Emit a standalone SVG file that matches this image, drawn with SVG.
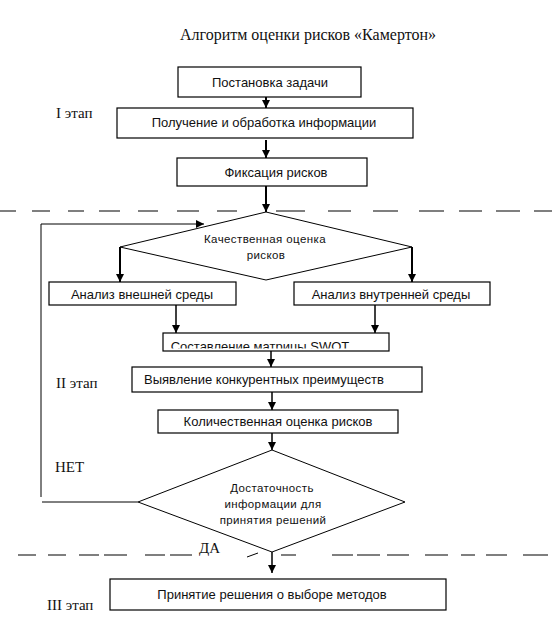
<svg xmlns="http://www.w3.org/2000/svg" width="558" height="620" viewBox="0 0 558 620">
<style>
.box{fill:#fff;stroke:#000;stroke-width:1.2}
.dia{fill:#fff;stroke:#000;stroke-width:1}
.t{font-family:"Liberation Sans",Arial,sans-serif;font-size:13px;fill:#111;text-anchor:middle}
.ts{font-family:"Liberation Sans",Arial,sans-serif;font-size:11.5px;fill:#111;text-anchor:middle;letter-spacing:0.4px}
.s{font-family:"Liberation Serif","Times New Roman",serif;font-size:15px;fill:#111}
.c{fill:none;stroke:#000;stroke-width:2}
.c1{fill:none;stroke:#000;stroke-width:1.5}
.l{fill:none;stroke:#000;stroke-width:1}
.d{fill:none;stroke:#000;stroke-width:1.2}
</style>
<defs>
<marker id="ah" markerUnits="userSpaceOnUse" markerWidth="9" markerHeight="10" refX="8" refY="4" orient="auto">
<path d="M0,0 L8,4 L0,8 Z" fill="#000"/>
</marker>
<clipPath id="swclip"><rect x="163" y="333" width="227" height="15.5"/></clipPath>
</defs>
<rect width="558" height="620" fill="#fff"/>
<text class="s" x="308" y="40" text-anchor="middle" style="font-size:16px">Алгоритм оценки рисков «Камертон»</text>
<g id="labels">
<text class="s" x="56" y="118">I этап</text>
<text class="s" x="56" y="388">II этап</text>
<text class="s" x="55" y="472">НЕТ</text>
<text class="s" x="199" y="553">ДА</text>
<text class="s" x="47" y="610">III этап</text>
</g>
<g id="dividers">
<path class="d" d="M0,211H16M32,211H50M68,211H84M99,211H120M138,211H158M177,211H199M217,211H237M276,211H305M328,211H351M373,211H398M419,211H444M459,211H482M496,211H520M534,211H552"/>
<path class="d" d="M18,555H36M48,555H66M79,555H99M104,555H127M145,555H165M170,555H192M281,555H296M332,555H353M357,555H380M387,555H409M425,555H448M461,555H475M486,555H507M523,555H548"/>
<path class="l" d="M247,557L258,553"/>
</g>
<g id="n1"><rect class="box" x="178" y="67" width="183" height="30"/><text class="t" x="270" y="87">Постановка задачи</text></g>
<g id="n2"><rect class="box" x="117" y="108" width="296" height="30"/><text class="t" x="264" y="127">Получение и обработка информации</text></g>
<g id="n3"><rect class="box" x="177" y="158" width="190" height="28"/><text class="t" x="276" y="177">Фиксация рисков</text></g>
<g id="n4"><polygon class="dia" points="266,212 412,247 266,280 120,247"/><text class="ts" x="265" y="243">Качественная оценка</text><text class="ts" x="266" y="259">рисков</text></g>
<g id="n5"><rect class="box" x="49" y="282" width="187" height="23"/><text class="t" x="142" y="299">Анализ внешней среды</text></g>
<g id="n6"><rect class="box" x="294" y="282" width="196" height="23"/><text class="t" x="391" y="299">Анализ внутренней среды</text></g>
<g id="n7"><rect class="box" x="163" y="333" width="226" height="18"/><text class="t" x="260" y="351" clip-path="url(#swclip)">Составление матрицы SWOT</text></g>
<g id="n8"><rect class="box" x="132" y="367" width="290" height="25"/><text class="t" x="264" y="384">Выявление конкурентных преимуществ</text></g>
<g id="n9"><rect class="box" x="158" y="410" width="240" height="23"/><text class="t" x="278" y="426">Количественная оценка рисков</text></g>
<g id="n10"><polygon class="dia" points="272,450 405,502 272,552 138,502"/><text class="ts" x="272" y="492">Достаточность</text><text class="ts" x="273" y="508">информации для</text><text class="ts" x="273" y="524">принятия решений</text></g>
<g id="n11"><rect class="box" x="110" y="579" width="336" height="31"/><text class="t" x="272" y="599">Принятие решения о выборе методов</text></g>
<g id="connectors">
<line class="c" x1="266" y1="97" x2="266" y2="108" marker-end="url(#ah)"/>
<line class="c" x1="266" y1="140" x2="266" y2="158" marker-end="url(#ah)"/>
<line class="c" x1="266" y1="186" x2="266" y2="212" marker-end="url(#ah)"/>
<line class="c" x1="120" y1="247" x2="120" y2="282" marker-end="url(#ah)"/>
<line class="c" x1="412" y1="247" x2="412" y2="282" marker-end="url(#ah)"/>
<line class="c1" x1="176" y1="305" x2="176" y2="333" marker-end="url(#ah)"/>
<line class="c1" x1="375" y1="305" x2="375" y2="333" marker-end="url(#ah)"/>
<line class="c1" x1="271" y1="351" x2="271" y2="367" marker-end="url(#ah)"/>
<line class="c1" x1="272" y1="392" x2="272" y2="410" marker-end="url(#ah)"/>
<line class="c1" x1="272" y1="433" x2="272" y2="450" marker-end="url(#ah)"/>
<line class="c1" x1="272" y1="552" x2="272" y2="573" marker-end="url(#ah)"/>
<polyline class="l" points="138,502 42,502"/>
<polyline class="l" points="41,497 41,224 204,224" marker-end="url(#ah)"/>
</g>
</svg>
